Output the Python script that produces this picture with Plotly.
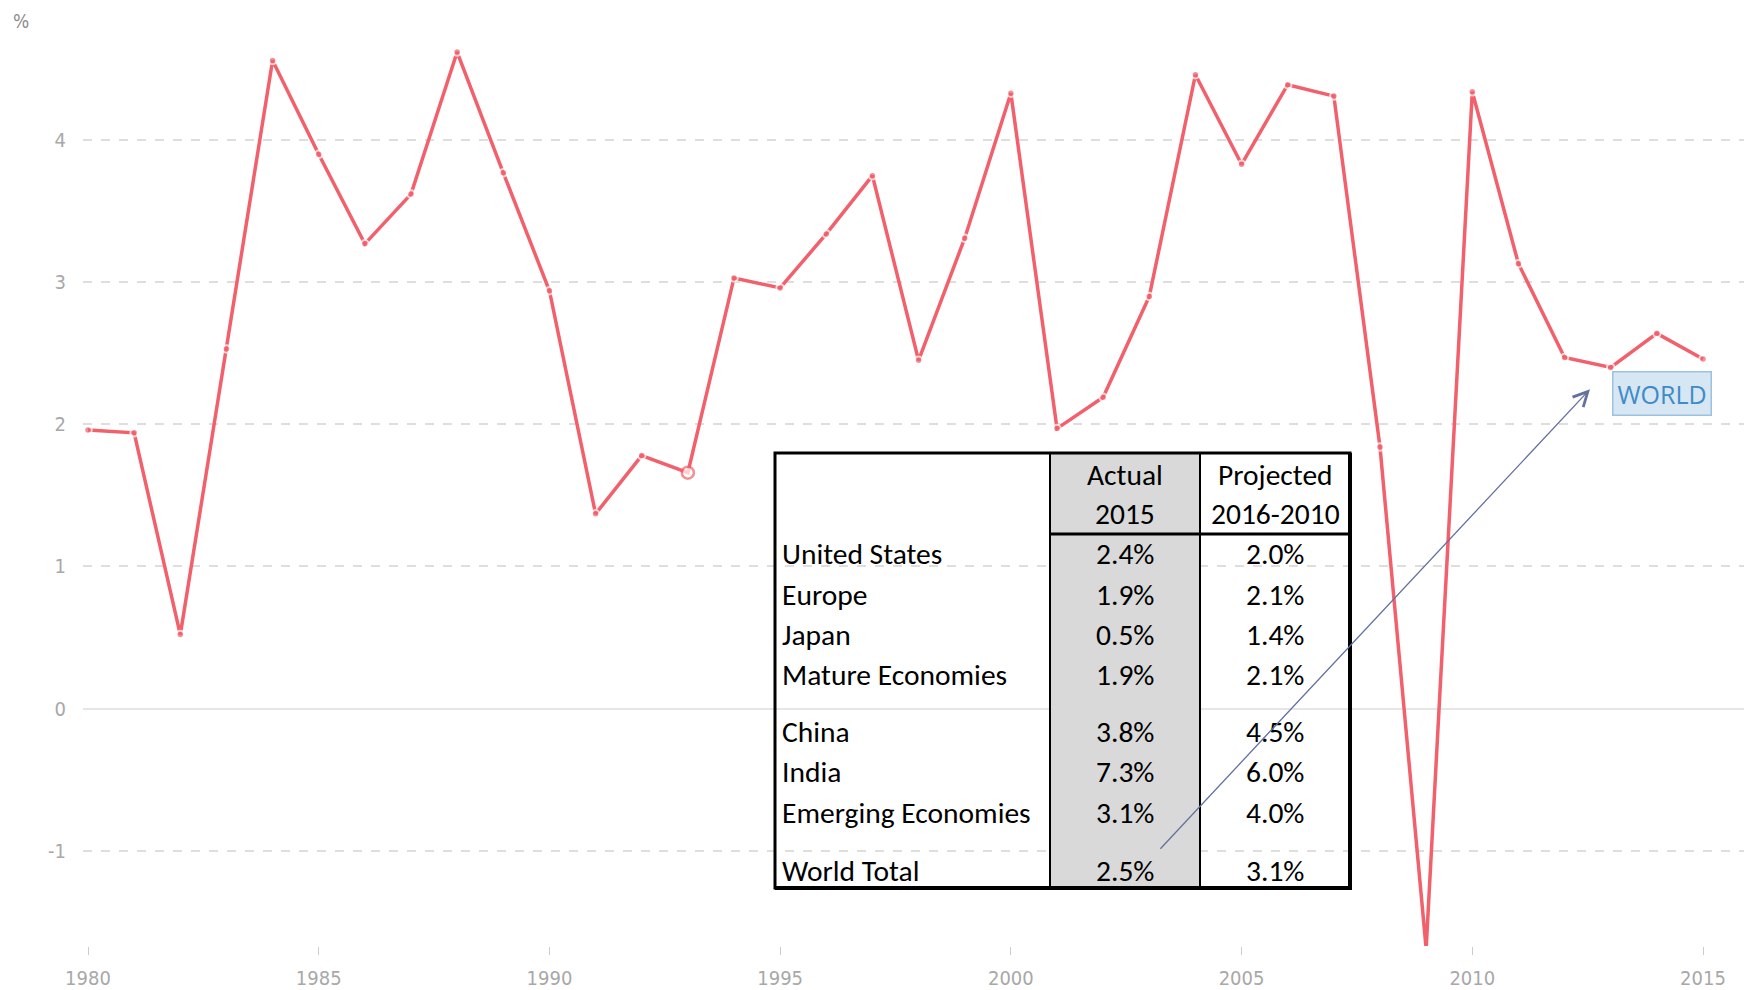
import plotly.graph_objects as go

# ---------------- data ----------------
years = list(range(1980, 2016))
world_growth = [1.96, 1.94, 0.52, 2.53, 4.56, 3.90, 3.27, 3.62, 4.62, 3.77,
                2.94, 1.37, 1.78, 1.66, 3.03, 2.96, 3.34, 3.75, 2.45, 3.31,
                4.33, 1.97, 2.19, 2.90, 4.46, 3.83, 4.39, 4.31, 1.84, -1.69,
                4.34, 3.13, 2.47, 2.40, 2.64, 2.46]

y_ticks = [-1, 0, 1, 2, 3, 4]
y_tick_labels = ["-1", "0", "1", "2", "3", "4"]
x_ticks = [1980, 1985, 1990, 1995, 2000, 2005, 2010, 2015]

table_regions = ["United States", "Europe", "Japan", "Mature Economies",
                 "China", "India", "Emerging Economies", "World Total"]
table_actual_2015 = ["2.4%", "1.9%", "0.5%", "1.9%", "3.8%", "7.3%", "3.1%", "2.5%"]
table_projected = ["2.0%", "2.1%", "1.4%", "2.1%", "4.5%", "6.0%", "4.0%", "3.1%"]
header_actual = ["Actual", "2015"]
header_projected = ["Projected", "2016-2010"]
highlight_year = 1993

# ---------------- layout helpers ----------------
OFF = 8  # default page body margin
W, H = 1752 - OFF, 990 - OFF
ML, MR, MT, MB = 75, 0, 2, 42
PW, PH = W - ML - MR, H - MT - MB


def px(x):
    """page pixel x -> paper"""
    return (x - OFF - ML) / PW


def py(y):
    """page pixel y -> paper"""
    return (H - MB - (y - OFF)) / PH


LINE_RED = "#f2606b"
GRID = "#dedede"

marker_sizes = [12 if yr == highlight_year else 7.5 for yr in years]
marker_fill = ["white" if yr == highlight_year else LINE_RED for yr in years]
marker_line_col = [LINE_RED if yr == highlight_year else "white" for yr in years]
marker_line_w = [2.5 if yr == highlight_year else 2 for yr in years]

fig = go.Figure()
fig.add_trace(go.Scatter(
    x=years, y=world_growth, mode="lines+markers",
    line=dict(color=LINE_RED, width=3.5),
    marker=dict(size=marker_sizes, color=marker_fill,
                line=dict(color=marker_line_col, width=marker_line_w)),
    cliponaxis=False, showlegend=False, hoverinfo="x+y",
))

shapes = []
annotations = []

# table geometry (page pixels)
T_L, T_R, T_T, T_B = 775, 1350, 454, 890
C1, C2 = 1050, 1200
HDR = 535
row_y = [555, 596, 636, 676, 734, 774, 815, 873]
hdr_y = [476, 515]
txt_left = 780
col1_c = (C1 + C2) / 2
col2_c = (C2 + T_R) / 2

shapes.append(dict(type="rect", xref="paper", yref="paper",
                   x0=px(C1), x1=px(C2), y0=py(T_B), y1=py(T_T),
                   fillcolor="#d9d9d9", line=dict(width=0), layer="above"))
shapes.append(dict(type="rect", xref="paper", yref="paper",
                   x0=px(T_L), x1=px(T_R), y0=py(T_B), y1=py(T_T),
                   line=dict(color="black", width=3), layer="above"))
shapes.append(dict(type="line", xref="paper", yref="paper",
                   x0=px(T_R), x1=px(T_R), y0=py(T_B + 2), y1=py(T_T),
                   line=dict(color="black", width=4), layer="above"))
shapes.append(dict(type="line", xref="paper", yref="paper",
                   x0=px(T_L), x1=px(T_R + 2), y0=py(T_B), y1=py(T_B),
                   line=dict(color="black", width=4), layer="above"))
for cx in (C1, C2):
    shapes.append(dict(type="line", xref="paper", yref="paper",
                       x0=px(cx), x1=px(cx), y0=py(T_B), y1=py(T_T),
                       line=dict(color="black", width=2), layer="above"))
shapes.append(dict(type="line", xref="paper", yref="paper",
                   x0=px(C1), x1=px(T_R), y0=py(HDR), y1=py(HDR),
                   line=dict(color="black", width=3), layer="above"))

TFONT = dict(family="Carlito, Lato, 'Open Sans', sans-serif", size=29.5, color="black")

for i, t in enumerate(header_actual):
    annotations.append(dict(x=px(col1_c), y=py(hdr_y[i]), xref="paper", yref="paper",
                            text=t, showarrow=False, xanchor="center", yanchor="middle",
                            font=TFONT))
for i, t in enumerate(header_projected):
    annotations.append(dict(x=px(col2_c), y=py(hdr_y[i]), xref="paper", yref="paper",
                            text=t, showarrow=False, xanchor="center", yanchor="middle",
                            font=TFONT))
for i, name in enumerate(table_regions):
    annotations.append(dict(x=px(txt_left), y=py(row_y[i]), xref="paper", yref="paper",
                            text=name, showarrow=False, xanchor="left", yanchor="middle",
                            font=TFONT))
    annotations.append(dict(x=px(col1_c), y=py(row_y[i]), xref="paper", yref="paper",
                            text=table_actual_2015[i], showarrow=False,
                            xanchor="center", yanchor="middle", font=TFONT))
    annotations.append(dict(x=px(col2_c), y=py(row_y[i]), xref="paper", yref="paper",
                            text=table_projected[i], showarrow=False,
                            xanchor="center", yanchor="middle", font=TFONT))

# arrow from table to WORLD label
annotations.append(dict(x=px(1590), y=py(390), xref="paper", yref="paper",
                        ax=1159 - 1590, ay=851 - 390, text="", showarrow=True,
                        arrowhead=5, arrowsize=2.2, arrowwidth=1.3,
                        arrowcolor="#6470a0"))

# WORLD label
annotations.append(dict(x=px(1662), y=py(394), xref="paper", yref="paper",
                        text="WORLD", showarrow=False, xanchor="center", yanchor="middle",
                        font=dict(family="'Open Sans', Roboto, sans-serif", size=25,
                                  color="#3d8bc9"),
                        bgcolor="#d6e6f2", bordercolor="#9cc2e0", borderwidth=1.5,
                        borderpad=4))

# % unit label
annotations.append(dict(x=px(21), y=py(8), xref="paper", yref="paper",
                        text="%", showarrow=False, xanchor="center", yanchor="top",
                        font=dict(family="'DejaVu Sans Condensed', sans-serif", size=19,
                                  color="#8c8c8c")))

y_top = (710 - 10) / 142.4
y_bot = (710 - 948) / 142.4
x_left = 1980 - (88 - 83) / 46.14
x_right = 2015 + (1752 - 1703) / 46.14

TICKFONT = dict(family="'Liberation Sans Narrow', 'DejaVu Sans Condensed', sans-serif",
                size=20, color="#a8a8a8")

fig.update_layout(
    width=W, height=H,
    margin=dict(l=ML, r=MR, t=MT, b=MB),
    paper_bgcolor="white", plot_bgcolor="white",
    shapes=shapes, annotations=annotations,
    showlegend=False,
    xaxis=dict(range=[x_left, x_right], tickvals=x_ticks,
               showgrid=False, zeroline=False, showline=False,
               ticks="outside", ticklen=8, tickcolor="#cccccc", tickwidth=1,
               ticklabelstandoff=6, tickfont=TICKFONT),
    yaxis=dict(range=[y_bot, y_top], tickvals=y_ticks, ticktext=y_tick_labels,
               showgrid=True, gridcolor=GRID, gridwidth=1.5, griddash="dash",
               zeroline=True, zerolinecolor="#e6e6e6", zerolinewidth=1.5,
               showline=False, ticks="", ticklabelstandoff=16, tickfont=TICKFONT),
)

fig.write_html("out.html")
